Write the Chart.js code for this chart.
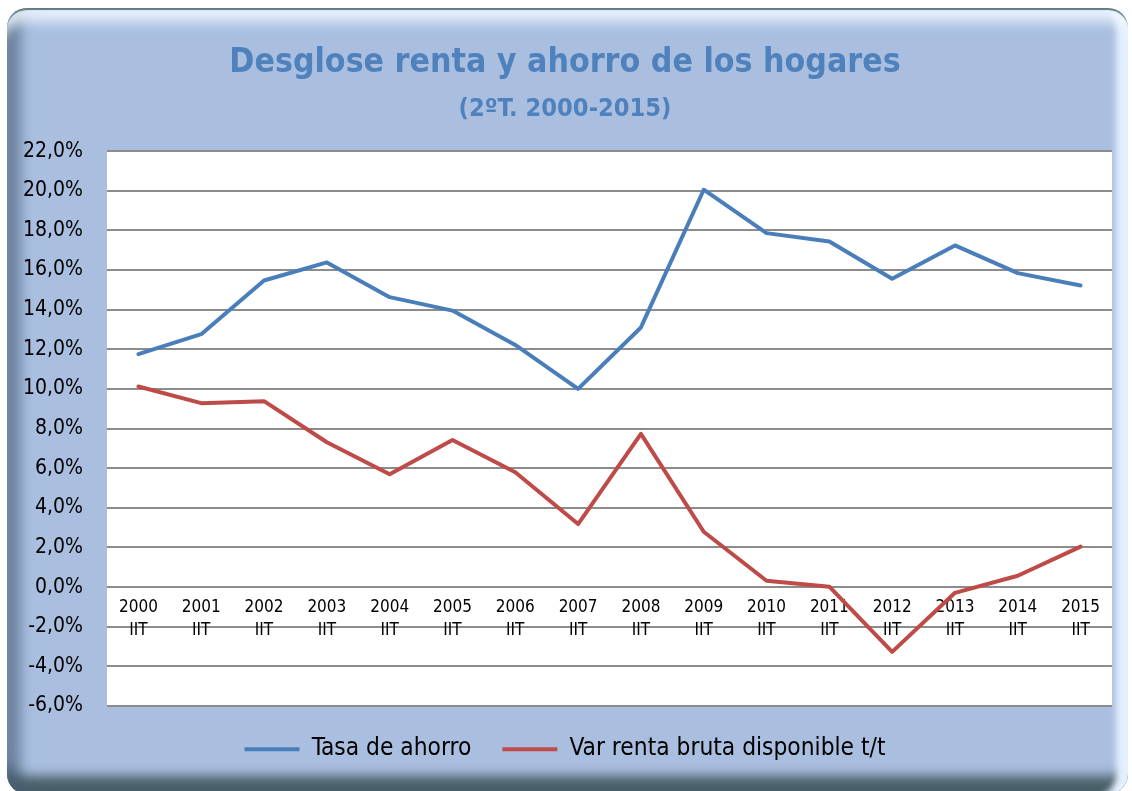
<!DOCTYPE html>
<html lang="es">
<head>
    <meta charset="UTF-8">
    <title>Desglose renta y ahorro de los hogares</title>
    <script src="https://cdn.jsdelivr.net/npm/chart.js"></script>
    <style>
        body {
            margin: 0;
            background: #fff;
            width: 1132px;
            height: 791px;
            overflow: hidden;
            position: relative;
        }
        .marco {
            position: absolute;
            left: 7px;
            top: 8px;
            width: 1121px;
            height: 786px;
            border-radius: 20px;
            background: #aabfe0;
            box-shadow:
                inset 0 3px 1px -1px #5f7b82,
                inset 0 22px 12px -8px rgba(238, 246, 255, 0.85),
                inset 24px 0 12px -10px rgba(70, 95, 120, 0.6),
                inset -16px 0 6px -4px rgba(228, 240, 255, 1),
                inset 0 -24px 12px -6px rgba(62, 84, 90, 0.9);
        }
        canvas {
            position: absolute;
            left: 0;
            top: 0;
        }
    </style>
</head>
<body>
    <div class="marco"></div>
    <canvas id="grafico" width="1132" height="791"></canvas>

    <script>
        const anios = ['2000', '2001', '2002', '2003', '2004', '2005', '2006', '2007',
                       '2008', '2009', '2010', '2011', '2012', '2013', '2014', '2015'];
        const trimestre = 'IIT';
        const tasaAhorro = [11.75, 12.76, 15.47, 16.38, 14.63, 13.95, 12.22, 10.0,
                            13.1, 20.05, 17.86, 17.44, 15.56, 17.24, 15.84, 15.22];
        const varRenta = [10.12, 9.28, 9.38, 7.31, 5.69, 7.42, 5.79, 3.18,
                          7.73, 2.79, 0.32, 0.02, -3.27, -0.29, 0.57, 2.04];

        const fuente = '"DejaVu Sans Condensed", "DejaVu Sans", sans-serif';
        const azul = '#4a7ebb';
        const rojo = '#be4b48';

        // fondo blanco solo en la zona de trazado
        const fondoPlot = {
            id: 'fondoPlot',
            beforeDraw(chart) {
                const a = chart.chartArea;
                chart.ctx.save();
                chart.ctx.fillStyle = '#ffffff';
                chart.ctx.fillRect(a.left, a.top, a.right - a.left, a.bottom - a.top);
                chart.ctx.restore();
            }
        };

        new Chart(document.getElementById('grafico'), {
            type: 'line',
            data: {
                labels: anios.map(a => [a, trimestre]),
                datasets: [
                    {
                        label: 'Tasa de ahorro',
                        data: tasaAhorro,
                        borderColor: azul,
                        backgroundColor: azul,
                        borderWidth: 4,
                        pointRadius: 0,
                        tension: 0,
                        borderJoinStyle: 'round',
                        borderCapStyle: 'round'
                    },
                    {
                        label: 'Var renta bruta disponible t/t',
                        data: varRenta,
                        borderColor: rojo,
                        backgroundColor: rojo,
                        borderWidth: 4,
                        pointRadius: 0,
                        tension: 0,
                        borderJoinStyle: 'round',
                        borderCapStyle: 'round'
                    }
                ]
            },
            options: {
                responsive: false,
                animation: false,
                layout: { padding: { left: 18, right: 20, top: 0, bottom: 19.7 } },
                scales: {
                    x: {
                        type: 'category',
                        position: { y: 0 },
                        offset: true,
                        grid: { display: false, drawTicks: false },
                        border: { display: false },
                        ticks: {
                            color: '#000',
                            padding: 9,
                            maxRotation: 0,
                            autoSkip: false,
                            font: { family: fuente, size: 17, lineHeight: 1.35 }
                        }
                    },
                    y: {
                        min: -6,
                        max: 22,
                        afterFit(s) { s.width = 89; },
                        grid: { color: '#8c8c8c', lineWidth: 2, drawTicks: false },
                        border: { display: false },
                        ticks: {
                            stepSize: 2,
                            padding: 24,
                            color: '#000',
                            font: { family: fuente, size: 21 },
                            callback: v => v.toFixed(1).replace('.', ',') + '%'
                        }
                    }
                },
                plugins: {
                    title: {
                        display: true,
                        text: 'Desglose renta y ahorro de los hogares',
                        color: '#4f81bd',
                        font: { family: fuente, size: 33.6, weight: 'bold', lineHeight: 1.2 },
                        padding: { top: 43, bottom: 0 }
                    },
                    subtitle: {
                        display: true,
                        text: '(2ºT. 2000-2015)',
                        color: '#4f81bd',
                        font: { family: fuente, size: 25.2, weight: 'bold', lineHeight: 1.2 },
                        padding: { top: 10.6, bottom: 26.9 }
                    },
                    legend: {
                        position: 'bottom',
                        labels: {
                            color: '#000',
                            boxWidth: 55,
                            boxHeight: 4,
                            padding: 31,
                            font: { family: fuente, size: 24.3 },
                            generateLabels: chart => Chart.defaults.plugins.legend.labels
                                .generateLabels(chart)
                                .map(l => Object.assign(l, { lineWidth: 0, strokeStyle: 'rgba(0,0,0,0)' }))
                        }
                    },
                    tooltip: { enabled: false }
                }
            },
            plugins: [fondoPlot]
        });
    </script>
</body>
</html>
